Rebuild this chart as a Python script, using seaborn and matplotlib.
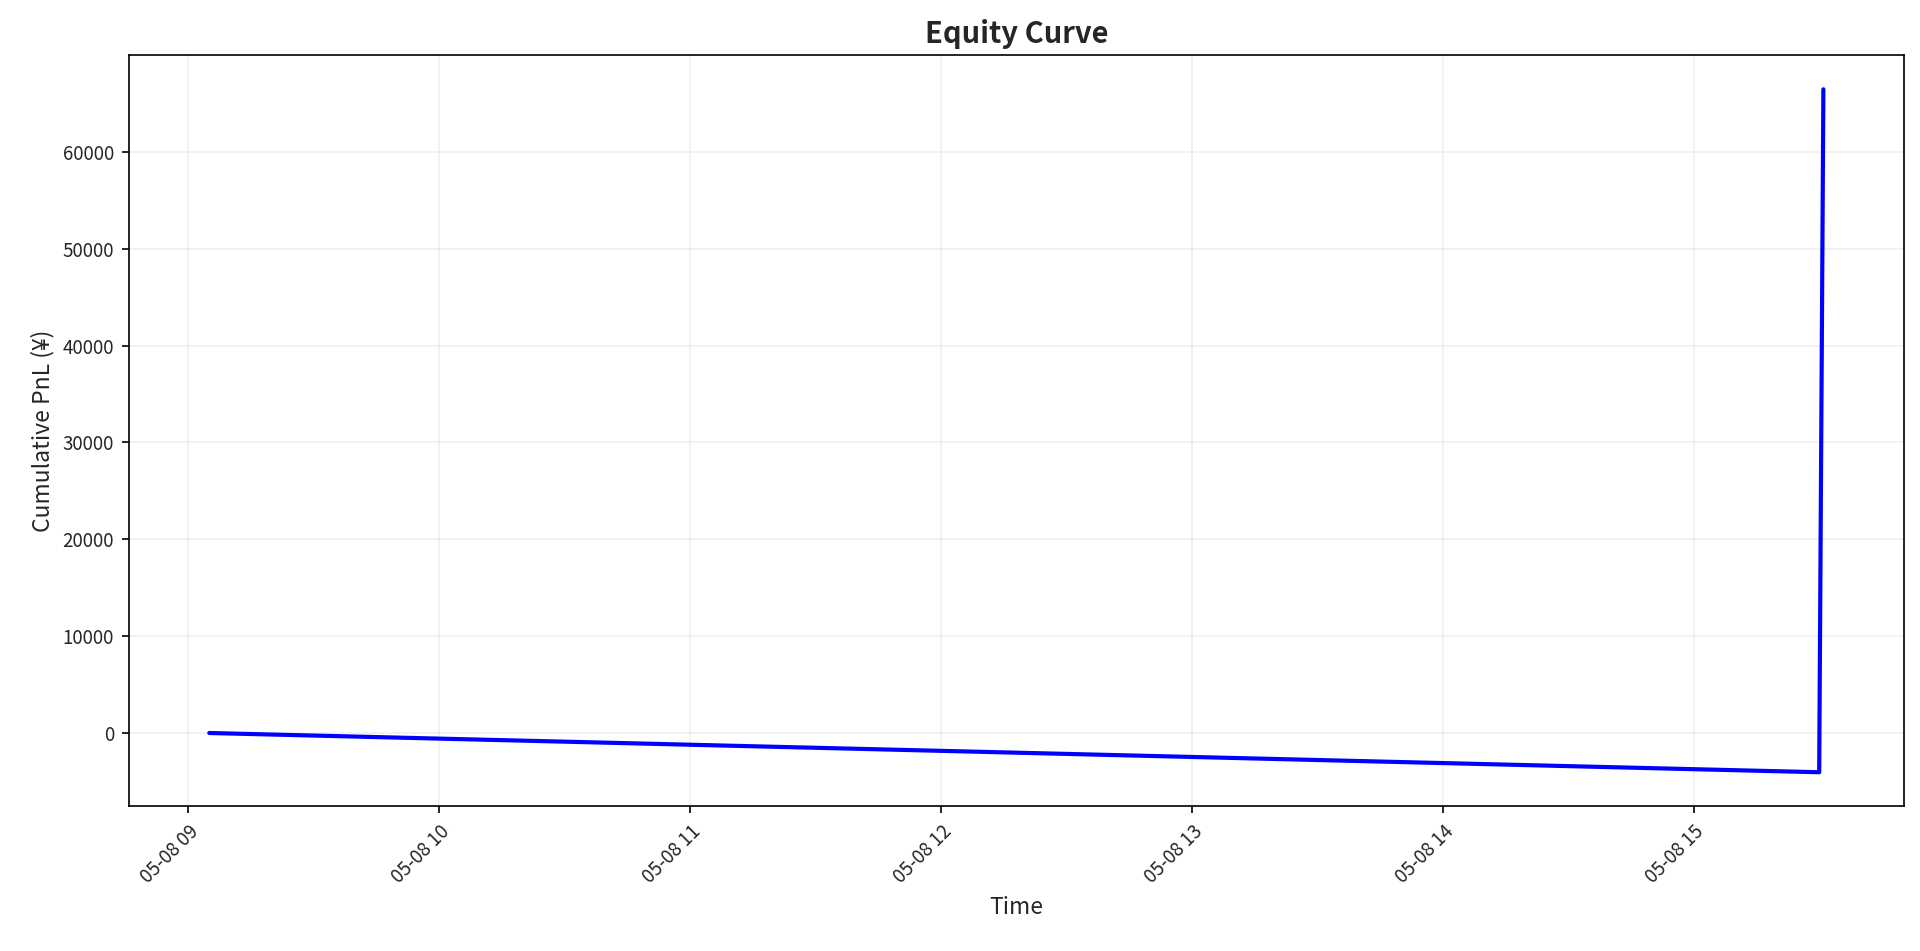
import matplotlib
matplotlib.use("Agg")
import matplotlib.pyplot as plt
import matplotlib.dates as mdates
import seaborn as sns
import pandas as pd

times = ["2024-05-08 09:05", "2024-05-08 15:30", "2024-05-08 15:31"]
pnl = [0, -4050, 66450]

sns.set_style("white")
plt.rcParams['font.family'] = ['Noto Sans CJK JP', 'DejaVu Sans']

df = pd.DataFrame({"Time": pd.to_datetime(times), "PnL": pnl})
fig = plt.figure(figsize=(12.8, 6.34), dpi=150)
W, H = 1568, 776
ax = fig.add_axes([105/W, 1-658/H, (1555-105)/W, (658-45)/H])
sns.lineplot(data=df, x="Time", y="PnL", ax=ax, color="blue", linewidth=2)
ax.set_title("Equity Curve", fontsize=14, fontweight="bold")
ax.set_xlabel("Time", fontsize=11)
ax.set_ylabel("Cumulative PnL (¥)", fontsize=11)
ax.grid(True, alpha=0.3)
for s in ax.spines.values():
    s.set_color("black"); s.set_linewidth(0.8)
ax.tick_params(axis="both", labelsize=9, length=3.5, color="black", left=True, bottom=True)
ax.xaxis.set_major_locator(mdates.HourLocator())
ax.xaxis.set_major_formatter(mdates.DateFormatter("%m-%d %H"))
plt.setp(ax.get_xticklabels(), rotation=45, ha="right", rotation_mode="anchor")
fig.savefig("out.png", dpi=150)
